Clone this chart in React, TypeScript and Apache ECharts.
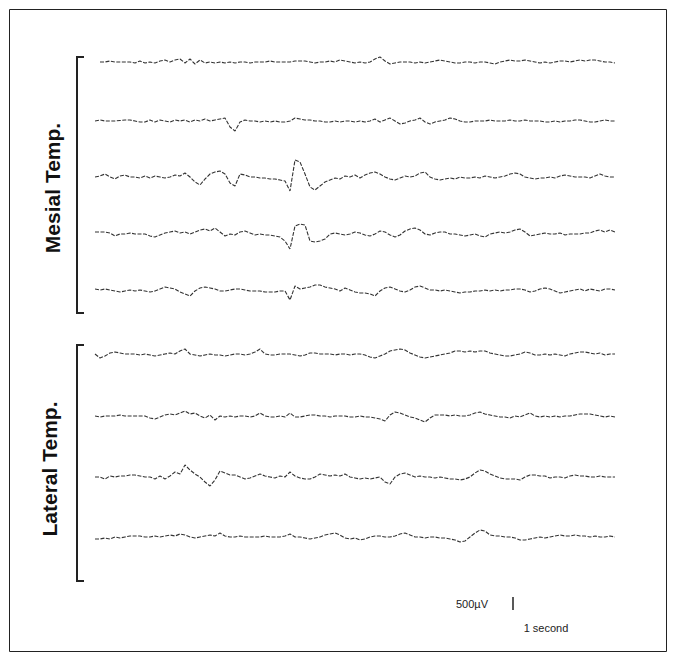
import React, { useEffect, useRef } from "react";
import * as echarts from "echarts";

// Sample interval of the traces (seconds)
const SAMPLE_SECONDS = 0.1;

const CHANNELS = [
  "Mesial 1", "Mesial 2", "Mesial 3", "Mesial 4", "Mesial 5",
  "Lateral 1", "Lateral 2", "Lateral 3", "Lateral 4",
];

// Traces in µV
const mesial1 = [null,0,0,40,0,0,0,0,-40,40, -40,0,-40,40,80,0,80,120,-40,120, -80,80,-40,0,-40,0,-40,0,-40,0, 0,-40,0,0,0,40,0,0,0,0, 40,40,40,0,-40,0,0,40,0,80, 40,0,-40,0,-40,0,120,200,40,-80, -40,0,0,0,-40,0,-40,0,40,80, 40,0,-40,-40,0,0,-40,0,0,-40, -80,0,40,80,40,40,80,40,0,-40, 0,-40,0,40,40,0,40,80,40,80, 80,40,0,0,-40];
const mesial2 = [0,40,0,0,0,20,40,40,0,-40, -40,40,-40,40,0,-40,40,0,40,-40, 40,0,80,0,40,80,120,-240,-400,-40, 40,0,0,-40,0,-40,0,-40,-40,0, 120,80,40,40,0,0,-40,-40,0,-40, 0,0,-40,0,-40,0,80,-40,40,120, 0,-120,-80,0,40,120,-40,-120,-40,0, 40,120,80,0,-40,-40,0,0,0,40, 0,0,0,40,0,0,40,0,0,0, -40,-40,0,-40,0,0,40,40,0,-40, -40,0,40,0,0];
const mesial3 = [0,40,120,0,-80,40,80,0,0,-40, 40,-40,40,0,-40,0,80,40,160,0, -200,-320,-80,120,200,240,120,-240,-360,120, 80,0,0,-40,-40,-80,-80,-120,-160,-560, 680,600,120,-400,-520,-360,-200,-120,-40,-80, 40,0,80,-40,80,160,200,120,0,-80, -120,-40,40,0,40,160,200,0,-80,-120, -80,-40,-80,0,-40,-40,0,-40,40,0, -40,0,40,120,160,120,0,-40,-80,-40, -40,0,-40,40,80,40,0,0,0,-40, 40,120,40,0,0];
const mesial4 = [40,40,40,0,-120,-40,-40,0,-40,-40, -40,-120,-160,-80,0,40,80,0,40,-40, 40,120,160,80,200,40,-120,-40,-80,40, 80,0,-80,-40,-80,-80,-120,-160,-320,-640, 280,360,320,-320,-360,-320,-240,-40,0,-40, -80,-40,40,0,-80,-120,-40,80,40,-80, -160,-80,80,160,200,120,-40,-80,0,40, 40,-40,-40,-80,-120,-80,-40,-120,-160,-40, 0,40,0,40,120,160,40,-120,-80,-40, 0,-40,-40,0,-80,-40,-40,-40,0,0, 80,120,40,120,40];
const mesial5 = [40,0,40,0,-40,-80,-40,0,-40,0, -40,-80,-40,40,120,80,40,-80,-160,-240, -40,80,120,80,40,-40,-40,0,40,40, 0,-40,-40,-40,-80,-80,-80,-40,-40,-400, 160,40,80,120,200,200,120,80,40,-40, 80,0,-80,-120,-120,-160,-240,-40,80,120, 40,-40,-80,0,120,160,80,0,0,-40, 0,-40,-80,-120,-80,-80,-40,-40,0,-40, 0,-40,0,0,40,40,0,-80,-40,40, 80,40,-40,-120,-80,-40,0,40,-40,40, 0,-40,40,40,0];
const lateral1 = [0,-160,-80,40,80,40,0,0,0,-40, 0,-40,-80,-40,0,40,0,120,200,0, -40,-80,-40,0,-40,-40,-80,-40,0,0, -40,0,80,200,0,-40,-40,0,0,0, -40,-80,-40,40,40,0,0,0,-40,0, 0,-40,0,0,-40,-120,-160,-80,0,120, 160,200,160,40,-40,-120,-160,-120,-80,-40, 0,40,120,120,80,120,80,120,120,40, 0,-40,-80,-80,-40,0,80,40,-40,-40, 0,-40,0,-40,-80,0,40,80,80,40, 0,40,-40,0,0];
const lateral2 = [0,-40,0,0,0,40,0,0,0,0, 0,-80,-120,-40,40,80,40,120,200,80, 120,0,-80,40,-160,0,-40,0,-40,0, 0,-40,0,120,0,-40,-40,0,-40,120, -40,-40,0,40,40,0,0,-40,0,0, 0,-40,-40,0,-40,-40,-80,-120,-200,40, 160,120,40,-40,-80,-160,-240,-80,40,40, 40,0,40,0,0,40,120,160,80,40, 0,-40,-40,-80,0,-40,40,120,0,-40, 0,-40,0,-40,0,0,40,80,80,80, 40,0,-40,0,-40];
const lateral3 = [0,0,-80,40,0,40,40,80,80,40, 0,0,-80,40,-80,40,200,120,480,280, 120,0,-200,-360,-120,240,160,80,80,0, -80,-40,40,120,40,0,-40,40,0,200, 40,-40,-80,-80,0,120,80,40,80,40, 120,0,-40,-80,-40,-80,-40,0,-200,-280, 0,120,160,80,0,40,0,0,-40,0, -40,-80,-80,-120,-80,0,160,280,240,120, 40,-40,-80,-80,-80,-120,0,80,80,40, 40,-40,0,0,-40,40,80,40,40,0, 0,40,0,0,0];
const lateral4 = [-80,-80,-40,-80,0,-40,0,40,40,40, 0,0,40,0,40,80,40,120,80,0, -40,0,40,80,40,160,40,0,0,40, 0,0,0,0,40,0,0,0,40,120, 0,0,-40,-80,-40,0,80,120,160,80, -40,-80,-40,-120,-80,0,40,40,0,0, 40,120,160,80,0,0,-40,0,0,-40, -40,-80,-120,-200,-160,0,160,280,240,80, 40,40,0,0,-40,-120,-120,-80,-40,0, -40,0,40,80,40,40,80,40,40,0, 40,0,0,40,0];

const SCALE_LABEL = "500µV";
const TIME_LABEL = "1 second";
const GROUP_LABELS = ["Mesial Temp.", "Lateral Temp."];

export default function App() {
  const ref = useRef<HTMLDivElement>(null);
  useEffect(() => {
    const chart = echarts.init(ref.current!, null, { renderer: "svg" });
    const traces = [mesial1, mesial2, mesial3, mesial4, mesial5, lateral1, lateral2, lateral3, lateral4];
    const baselines = [62, 121, 177, 233, 290, 354, 416, 477, 537];
    const half = 25;
    const grid = baselines.map((b) => ({ left: 95, width: 520, top: b - half, height: half * 2 }));
    const xAxis = traces.map((t, i) => ({
      type: "value", gridIndex: i, min: 0, max: (t.length - 1) * SAMPLE_SECONDS, show: false,
    }));
    const yAxis = traces.map((_, i) => ({ type: "value", gridIndex: i, min: -1000, max: 1000, show: false }));
    const series = traces.map((t, i) => ({
      type: "line",
      name: CHANNELS[i],
      xAxisIndex: i,
      yAxisIndex: i,
      data: t.map((v, k) => [Math.round(k * SAMPLE_SECONDS * 100) / 100, v]),
      symbol: "none",
      showSymbol: false,
      clip: false,
      silent: true,
      lineStyle: { color: "#333", width: 1.1, type: [4, 1.5] },
    }));
    const font = '"Liberation Sans", Arial, sans-serif';
    chart.setOption({
      animation: false,
      backgroundColor: "#ffffff",
      grid,
      xAxis,
      yAxis,
      series,
      graphic: [
        { type: "rect", shape: { x: 9.5, y: 9.5, width: 657, height: 642 }, style: { fill: "none", stroke: "#222", lineWidth: 1 } },
        { type: "polyline", shape: { points: [[84, 57], [77, 57], [77, 313], [84, 313]] }, style: { fill: "none", stroke: "#222", lineWidth: 2 } },
        { type: "polyline", shape: { points: [[84, 345], [77, 345], [77, 581], [84, 581]] }, style: { fill: "none", stroke: "#222", lineWidth: 2 } },
        { type: "text", x: 52, y: 188, rotation: Math.PI / 2, style: { text: GROUP_LABELS[0], fontSize: 21, fontWeight: "bold", fontFamily: font, fill: "#111", align: "center", verticalAlign: "middle" } },
        { type: "text", x: 49, y: 469, rotation: Math.PI / 2, style: { text: GROUP_LABELS[1], fontSize: 21, fontWeight: "bold", fontFamily: font, fill: "#111", align: "center", verticalAlign: "middle" } },
        { type: "text", x: 472, y: 604, style: { text: SCALE_LABEL, fontSize: 11, fontFamily: font, fill: "#222", align: "center", verticalAlign: "middle" } },
        { type: "line", shape: { x1: 513, y1: 597, x2: 513, y2: 610 }, style: { stroke: "#222", lineWidth: 1.5 } },
        { type: "text", x: 546, y: 628, style: { text: TIME_LABEL, fontSize: 11, fontFamily: font, fill: "#222", align: "center", verticalAlign: "middle" } },
      ],
    });
    return () => chart.dispose();
  }, []);
  return <div ref={ref} style={{ position: "absolute", left: 0, top: 0, width: 675, height: 661 }} />;
}
